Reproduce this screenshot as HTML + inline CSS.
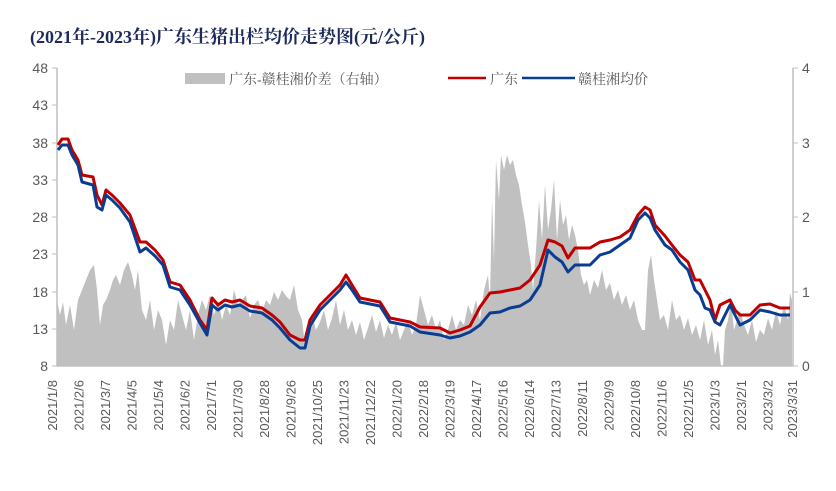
<!DOCTYPE html>
<html><head><meta charset="utf-8"><style>
body{margin:0;background:#fff;}
svg{display:block;font-family:"Liberation Serif","Noto Serif CJK SC","Noto Sans CJK SC",serif;}
</style></head><body>
<svg width="836" height="491" viewBox="0 0 836 491" xmlns="http://www.w3.org/2000/svg">
<text x="30" y="43" font-size="18" font-weight="bold" fill="#1f2a5c">(2021年-2023年)广东生猪出栏均价走势图(元/公斤)</text>
<polygon fill="#c0c0c0" points="57,366 57,300 60,315 63,302 66,325 70,305 74,330 78,300 82,290 86,280 90,270 94,265 97,290 100,325 103,305 106,300 110,290 113,280 116,275 120,285 124,270 128,262 132,275 135,290 138,270 142,310 146,320 150,300 154,330 158,310 162,320 166,345 170,320 174,330 178,300 182,315 186,330 190,310 194,340 198,315 202,300 206,310 210,295 214,315 218,300 222,320 226,305 230,315 234,290 238,305 242,300 246,295 250,318 254,305 258,300 262,312 266,300 270,305 274,292 278,300 282,290 286,296 290,300 294,285 298,310 302,320 305,345 308,330 312,315 316,330 320,322 324,310 328,330 332,318 336,300 340,325 344,310 348,330 352,320 356,335 360,322 364,340 368,328 372,315 376,332 380,320 384,338 388,325 392,335 396,322 400,340 404,330 408,320 412,335 416,325 420,295 424,310 428,325 432,315 436,330 440,320 444,340 448,330 452,315 456,330 460,320 464,325 468,305 472,315 476,300 480,320 484,290 488,275 490,300 492,200 494,260 496,160 499,200 501,155 504,170 507,155 510,165 513,160 516,175 519,185 522,205 525,222 528,245 531,265 533,290 536,250 539,200 542,240 545,185 548,230 551,210 554,180 557,240 560,200 563,225 566,215 569,240 572,225 575,235 578,250 581,275 584,285 587,280 590,295 594,280 598,288 602,270 606,290 610,283 614,300 618,290 622,305 626,295 630,310 634,300 638,320 642,330 645,330 648,270 651,255 654,280 657,300 660,320 664,315 668,330 672,300 676,320 680,315 684,330 688,318 692,335 696,325 700,340 704,320 708,345 712,330 715,355 718,340 721,366 723,366 725,330 728,320 731,300 734,330 737,320 740,310 744,325 748,335 752,320 756,342 760,330 764,335 768,318 772,330 776,310 780,325 784,305 788,320 790,293 792,300 792,366"/>
<line x1="57" y1="68" x2="57" y2="366" stroke="#bfbfbf" stroke-width="1.5"/>
<line x1="57" y1="366" x2="793" y2="366" stroke="#bfbfbf" stroke-width="1.5"/>
<line x1="793" y1="68" x2="793" y2="366" stroke="#bfbfbf" stroke-width="1.5"/>
<g stroke="#bfbfbf" stroke-width="1">
<line x1="52" y1="68" x2="57" y2="68"/><line x1="52" y1="105" x2="57" y2="105"/><line x1="52" y1="143" x2="57" y2="143"/><line x1="52" y1="180" x2="57" y2="180"/><line x1="52" y1="217" x2="57" y2="217"/><line x1="52" y1="254" x2="57" y2="254"/><line x1="52" y1="292" x2="57" y2="292"/><line x1="52" y1="329" x2="57" y2="329"/><line x1="52" y1="366" x2="57" y2="366"/>
<line x1="793" y1="68" x2="798" y2="68"/><line x1="793" y1="143" x2="798" y2="143"/><line x1="793" y1="217" x2="798" y2="217"/><line x1="793" y1="292" x2="798" y2="292"/><line x1="793" y1="366" x2="798" y2="366"/>
</g>
<g font-family="Liberation Sans,sans-serif" font-size="14" fill="#595959" text-anchor="end">
<text x="48" y="73">48</text><text x="48" y="110">43</text><text x="48" y="148">38</text><text x="48" y="185">33</text><text x="48" y="222">28</text><text x="48" y="259">23</text><text x="48" y="297">18</text><text x="48" y="334">13</text><text x="48" y="371">8</text>
</g>
<g font-family="Liberation Sans,sans-serif" font-size="14" fill="#595959">
<text x="802" y="73">4</text><text x="802" y="148">3</text><text x="802" y="222">2</text><text x="802" y="297">1</text><text x="802" y="371">0</text>
</g>
<polyline fill="none" stroke="#c00000" stroke-width="3" stroke-linejoin="round" points="58,145 62,139 68,139 72,150 78,160 82,175 93,177 97,195 102,205 106,190 112,195 120,203 130,215 140,242 146,242 155,250 163,260 170,282 180,285 190,300 200,320 207,330 212,298 218,305 225,300 232,302 240,300 250,306 262,308 272,315 280,322 290,335 300,340 305,340 310,320 320,305 330,295 340,285 346,275 352,285 360,298 370,300 380,302 390,318 400,320 410,322 420,327 440,328 450,333 460,330 470,326 480,307 490,293 500,292 510,290 520,288 530,280 540,265 548,240 555,242 562,246 568,258 575,248 590,248 600,242 610,240 620,237 630,230 638,215 645,207 650,210 655,225 665,236 672,245 680,255 688,262 695,280 700,280 705,290 710,300 715,320 720,305 730,300 735,310 740,315 750,315 760,305 770,304 780,308 790,308"/>
<polyline fill="none" stroke="#0a3d91" stroke-width="3" stroke-linejoin="round" points="58,150 62,145 68,145 72,155 78,165 82,182 93,185 97,207 102,210 106,195 112,200 120,208 130,222 140,252 146,248 155,256 163,265 170,287 180,290 190,305 200,323 207,335 212,305 218,310 225,305 232,307 240,305 250,311 262,313 272,320 280,328 290,340 300,348 305,348 310,326 320,310 330,300 340,290 346,282 352,290 360,302 370,304 380,306 390,322 400,324 410,326 420,332 440,335 450,338 460,336 470,332 480,325 490,313 500,312 510,308 520,306 530,300 540,285 548,250 555,257 562,262 568,272 575,265 590,265 600,255 610,252 620,245 630,238 638,220 645,213 650,218 655,230 665,245 672,250 680,262 688,270 695,290 700,295 705,308 710,310 715,322 720,325 730,305 735,315 740,325 750,320 760,310 770,312 780,315 790,315"/>
<rect x="185" y="73" width="40" height="11" fill="#c0c0c0"/>
<text x="229" y="84" font-size="14" fill="#595959">广东-赣桂湘价差（右轴）</text>
<line x1="448" y1="78" x2="486" y2="78" stroke="#c00000" stroke-width="2.5"/>
<text x="490" y="84" font-size="14" fill="#595959">广东</text>
<line x1="522" y1="78" x2="575" y2="78" stroke="#0a3d91" stroke-width="2.5"/>
<text x="578" y="84" font-size="14" fill="#595959">赣桂湘均价</text>
<g font-family="Liberation Sans,sans-serif" font-size="13" fill="#595959" text-anchor="end">
<text transform="translate(57,380) rotate(-90)">2021/1/8</text>
<text transform="translate(83.5,380) rotate(-90)">2021/2/6</text>
<text transform="translate(110,380) rotate(-90)">2021/3/7</text>
<text transform="translate(136.5,380) rotate(-90)">2021/4/5</text>
<text transform="translate(163,380) rotate(-90)">2021/5/4</text>
<text transform="translate(189.5,380) rotate(-90)">2021/6/2</text>
<text transform="translate(216,380) rotate(-90)">2021/7/1</text>
<text transform="translate(242.5,380) rotate(-90)">2021/7/30</text>
<text transform="translate(269,380) rotate(-90)">2021/8/28</text>
<text transform="translate(295.5,380) rotate(-90)">2021/9/26</text>
<text transform="translate(322,380) rotate(-90)">2021/10/25</text>
<text transform="translate(348.5,380) rotate(-90)">2021/11/23</text>
<text transform="translate(375,380) rotate(-90)">2021/12/22</text>
<text transform="translate(401.5,380) rotate(-90)">2022/1/20</text>
<text transform="translate(428,380) rotate(-90)">2022/2/18</text>
<text transform="translate(454.5,380) rotate(-90)">2022/3/19</text>
<text transform="translate(481,380) rotate(-90)">2022/4/17</text>
<text transform="translate(507.5,380) rotate(-90)">2022/5/16</text>
<text transform="translate(534,380) rotate(-90)">2022/6/14</text>
<text transform="translate(560.5,380) rotate(-90)">2022/7/13</text>
<text transform="translate(587,380) rotate(-90)">2022/8/11</text>
<text transform="translate(613.5,380) rotate(-90)">2022/9/9</text>
<text transform="translate(640,380) rotate(-90)">2022/10/8</text>
<text transform="translate(666.5,380) rotate(-90)">2022/11/6</text>
<text transform="translate(693,380) rotate(-90)">2022/12/5</text>
<text transform="translate(719.5,380) rotate(-90)">2023/1/3</text>
<text transform="translate(746,380) rotate(-90)">2023/2/1</text>
<text transform="translate(772.5,380) rotate(-90)">2023/3/2</text>
<text transform="translate(797,380) rotate(-90)">2023/3/31</text>
</g>
</svg>
</body></html>
